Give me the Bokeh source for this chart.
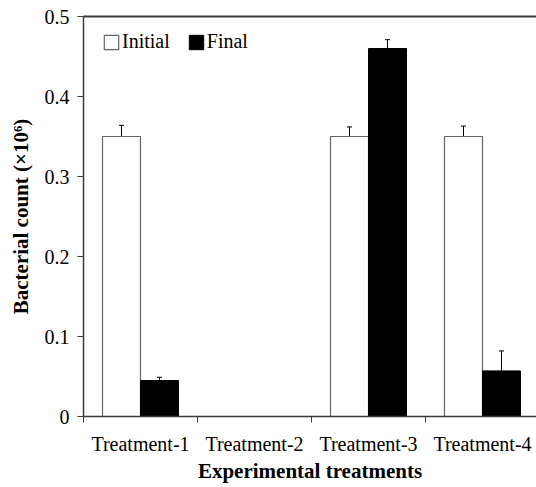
import numpy as np
from bokeh.plotting import figure
from bokeh.models import (Range1d, FixedTicker, LinearAxis, Whisker, TeeHead,
                          ColumnDataSource, Legend, LegendItem)
from bokeh.transform import dodge
from bokeh.embed import file_html
from bokeh.resources import INLINE

# ---- data ----
categories = ["Treatment-1", "Treatment-2", "Treatment-3", "Treatment-4"]
initial = [0.35, 0.0, 0.35, 0.35]
initial_err = [0.014, 0.0, 0.012, 0.013]
final = [0.045, 0.0, 0.46, 0.057]
final_err = [0.004, 0.0, 0.011, 0.025]
y_ticks = [0, 0.1, 0.2, 0.3, 0.4, 0.5]

FONT = "Liberation Serif"
AX = "#3a3a3a"

centers = [i + 0.5 for i in range(len(categories))]
src = ColumnDataSource(dict(x=centers, initial=initial, final=final))

p = figure(width=536, height=487, output_backend="svg", toolbar_location=None,
           x_range=Range1d(0, 453 / 114), y_range=Range1d(0, 0.5),
           min_border_left=83, min_border_right=0, min_border_top=16,
           min_border_bottom=71)
p.xgrid.visible = False
p.ygrid.visible = False
p.outline_line_color = None
p.background_fill_color = "white"

bw = 1 / 3
r_ini = p.vbar(x=dodge("x", -bw / 2, range=p.x_range), top="initial", width=bw,
               source=src, fill_color="white", line_color="#666666", line_width=1.2)
r_fin = p.vbar(x=dodge("x", bw / 2, range=p.x_range), top="final", width=bw,
               source=src, fill_color="black", line_color="black", line_width=1)

# error bars (only non-zero bars)
idx = [i for i in range(len(categories)) if initial[i] > 0]
esrc_i = ColumnDataSource(dict(x=[centers[i] - bw / 2 for i in idx],
                               lo=[initial[i] for i in idx],
                               up=[initial[i] + initial_err[i] for i in idx]))
idx2 = [i for i in range(len(categories)) if final[i] > 0]
esrc_f = ColumnDataSource(dict(x=[centers[i] + bw / 2 for i in idx2],
                               lo=[final[i] for i in idx2],
                               up=[final[i] + final_err[i] for i in idx2]))
for s in (esrc_i, esrc_f):
    w = Whisker(source=s, base="x", lower="lo", upper="up", line_color="black",
                line_width=1,
                upper_head=TeeHead(size=5, line_color="black", line_width=1),
                lower_head=None)
    p.add_layout(w)

# x axis
xa = p.xaxis[0]
xa.ticker = FixedTicker(ticks=centers, minor_ticks=list(range(len(categories) + 1)))
xa.major_label_overrides = {c: lab for c, lab in zip(centers, categories)}
xa.major_tick_out = 0
xa.major_tick_in = 0
xa.minor_tick_out = 6
xa.minor_tick_in = 0
xa.minor_tick_line_color = AX
xa.axis_line_color = AX
xa.axis_line_width = 1.5
xa.major_label_text_font = FONT
xa.major_label_text_font_size = "20px"
xa.major_label_text_color = "black"
xa.major_label_standoff = 10
xa.axis_label = "Experimental treatments"
xa.axis_label_text_font = FONT
xa.axis_label_text_font_style = "bold"
xa.axis_label_text_font_size = "21px"
xa.axis_label_text_color = "black"
xa.axis_label_standoff = 1

# y axis
ya = p.yaxis[0]
ya.ticker = FixedTicker(ticks=y_ticks)
ya.major_label_overrides = {0: "0"}
ya.major_tick_out = 6
ya.major_tick_in = 0
ya.minor_tick_out = 0
ya.minor_tick_in = 0
ya.major_tick_line_color = AX
ya.axis_line_color = AX
ya.axis_line_width = 1.5
ya.major_label_text_font = FONT
ya.major_label_text_font_size = "20px"
ya.major_label_text_color = "black"
ya.major_label_standoff = 8
ya.axis_label = "Bacterial count (×10⁶)"
ya.axis_label_text_font = FONT
ya.axis_label_text_font_style = "bold"
ya.axis_label_text_font_size = "21px"
ya.axis_label_text_color = "black"
ya.axis_label_standoff = 9

# top border line
top = LinearAxis(ticker=FixedTicker(ticks=[]), major_tick_out=0, major_tick_in=0,
                 minor_tick_out=0, minor_tick_in=0, major_label_text_font_size="0px",
                 axis_line_color=AX, axis_line_width=2)
p.add_layout(top, "above")

legend = Legend(items=[LegendItem(label="Initial", renderers=[r_ini]),
                       LegendItem(label="Final", renderers=[r_fin])],
                orientation="horizontal", location=(19, 363),
                border_line_color=None, background_fill_alpha=0,
                label_text_font=FONT, label_text_font_size="20px",
                label_text_color="black",
                glyph_width=18, glyph_height=18, label_standoff=2, spacing=17,
                padding=0, margin=0)
p.add_layout(legend)

open("out.html", "w").write(file_html(p, INLINE))
